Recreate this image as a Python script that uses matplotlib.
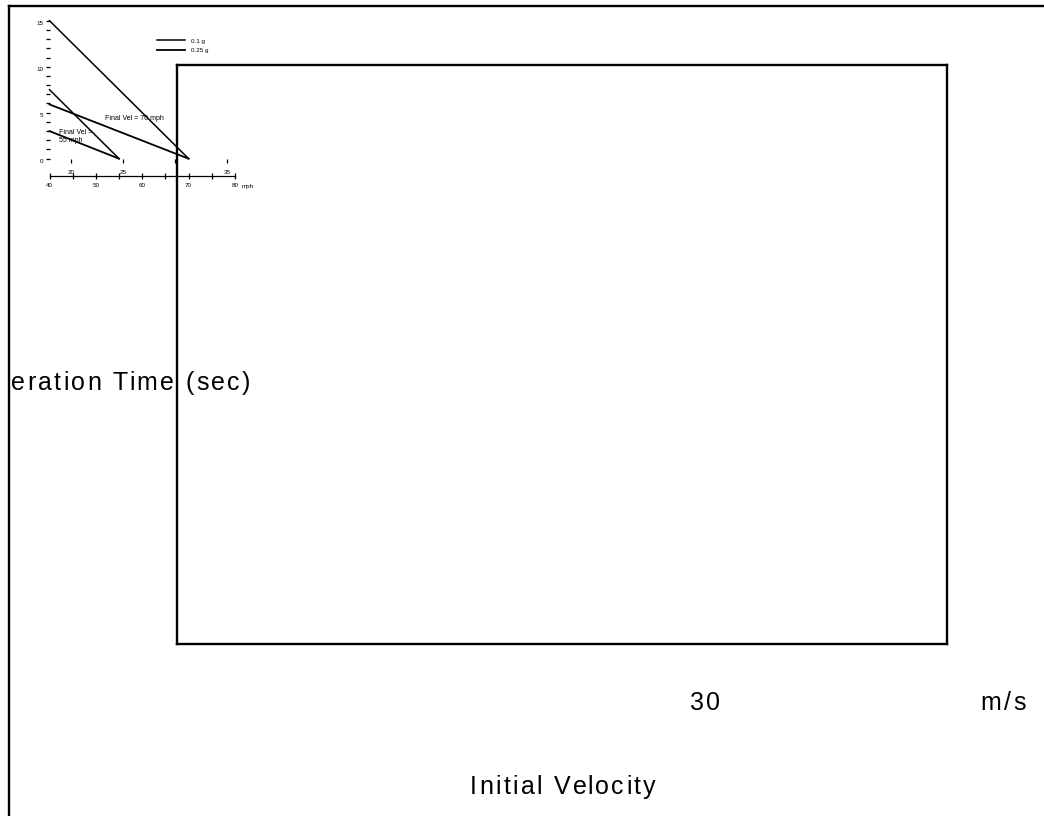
import numpy as np
import matplotlib.pyplot as plt
from matplotlib.font_manager import FontProperties

plt.rcParams['font.family'] = ['Liberation Sans', 'DejaVu Sans']

# data (initial velocity in mph, time in sec)
v_70 = [40, 70]
t_70_01g = [15.0, 0.0]
t_70_025g = [5.9, 0.0]
v_55 = [40, 55]
t_55_01g = [7.5, 0.0]
t_55_025g = [3.0, 0.0]
ms_ticks = [20, 25, 30, 35]
ms_labels = ['20', '25', '', '35']

W, H = 1044, 816
fig = plt.figure(figsize=(W/100, H/100), dpi=100)
renderer = fig.canvas.get_renderer()

def box(x0, y0, x1, y1):
    # pixel box (top-left origin) -> figure rect
    return [x0/W, 1 - y1/H, (x1-x0)/W, (y1-y0)/H]

def spaced(target, x, y, s, size=18, track=2.3, ha='center'):
    # text with wide letter spacing, like the old metafile rendering
    prop = FontProperties(family='Liberation Sans', size=size)
    wI = renderer.get_text_width_height_descent('I', prop, ismath=False)[0]
    def adv(i):
        if i == 0:
            return 0.0
        return renderer.get_text_width_height_descent(s[:i] + 'I', prop, ismath=False)[0] - wI
    total = renderer.get_text_width_height_descent(s, prop, ismath=False)[0] + (len(s)-1)*track
    x0 = x - total/2 if ha == 'center' else (x - total if ha == 'right' else x)
    for i, c in enumerate(s):
        if c == ' ':
            continue
        xc = x0 + adv(i) + i*track
        target.text(xc/W, 1 - y/H, c, fontproperties=prop, ha='left', va='center',
                    transform=fig.transFigure, clip_on=True)

# outer frame, only left and top edges visible
frame = fig.add_axes(box(9, 6, 1100, 900))
frame.set_xticks([])
frame.set_yticks([])
frame.patch.set_alpha(0)
for s in ['right', 'bottom']:
    frame.spines[s].set_visible(False)
for s in ['left', 'top']:
    frame.spines[s].set_linewidth(1.7)

# y label, cut off by the frame edge (as in the original)
spaced(frame, 250, 383, 'Deceleration Time (sec)', ha='right')

# big empty box
big = fig.add_axes(box(177, 65, 947.5, 644))
big.set_xticks([])
big.set_yticks([])
big.patch.set_alpha(0)
for s in big.spines.values():
    s.set_linewidth(1.7)

# small chart
ax = fig.add_axes(box(49.5, 20.7, 235, 158.7))
ax.patch.set_alpha(0)
ax.plot(v_70, t_70_01g, color='black', lw=1.1, clip_on=False, label='0.1 g')
ax.plot(v_70, t_70_025g, color='black', lw=1.3, clip_on=False, label='0.25 g')
ax.plot(v_55, t_55_01g, color='black', lw=1.1, clip_on=False)
ax.plot(v_55, t_55_025g, color='black', lw=1.3, clip_on=False)
ax.set_xlim(40, 80)
ax.set_ylim(0, 15)

ax.spines['top'].set_visible(False)
ax.spines['right'].set_visible(False)
ax.spines['left'].set_visible(False)
ax.spines['bottom'].set_position(('data', -1.9))
ax.spines['bottom'].set_linewidth(0.9)
ax.set_xticks([40, 50, 60, 70, 80])
ax.set_xticks(np.arange(40, 81, 5), minor=True)
ax.tick_params(axis='x', which='both', direction='inout', length=5, width=0.9,
               labelsize=4.5, pad=2.5, colors='black')
ax.set_yticks([0, 5, 10, 15])
ax.set_yticks(np.arange(0, 16, 1), minor=True)
ax.tick_params(axis='y', which='both', direction='out', length=3.2, width=0.9,
               labelsize=4.5, pad=1)
for lab in ax.get_yticklabels():
    lab.set_va('top')
ax.text(81.5, -3.0, 'mph', fontsize=4.5, ha='left', va='center')

mph2ms = lambda v: v*0.44704
ms2mph = lambda v: v/0.44704
sec = ax.secondary_xaxis(0, functions=(mph2ms, ms2mph))
sec.spines['bottom'].set_visible(False)
sec.set_xticks(ms_ticks)
sec.set_xticklabels(ms_labels)
sec.tick_params(axis='x', direction='out', length=3, width=0.9, labelsize=4.5, pad=5.3)

ax.text(52, 4.4, 'Final Vel = 70 mph', fontsize=5, ha='left', va='center')
ax.text(42, 2.9, 'Final Vel =', fontsize=5, ha='left', va='center')
ax.text(42, 2.0, '55 mph', fontsize=5, ha='left', va='center')

leg = ax.legend(loc='upper left', bbox_to_anchor=(154/W, 1 - 35/H),
                bbox_transform=fig.transFigure, fontsize=4.5, frameon=False,
                handlelength=4.5, handletextpad=0.9, labelspacing=0.65,
                borderpad=0)

# texts of the big chart
spaced(fig, 705, 703, '30')
spaced(fig, 1003, 703, 'm/s')
spaced(fig, 563, 787, 'Initial Velocity')

plt.savefig('out.png', dpi=100)
